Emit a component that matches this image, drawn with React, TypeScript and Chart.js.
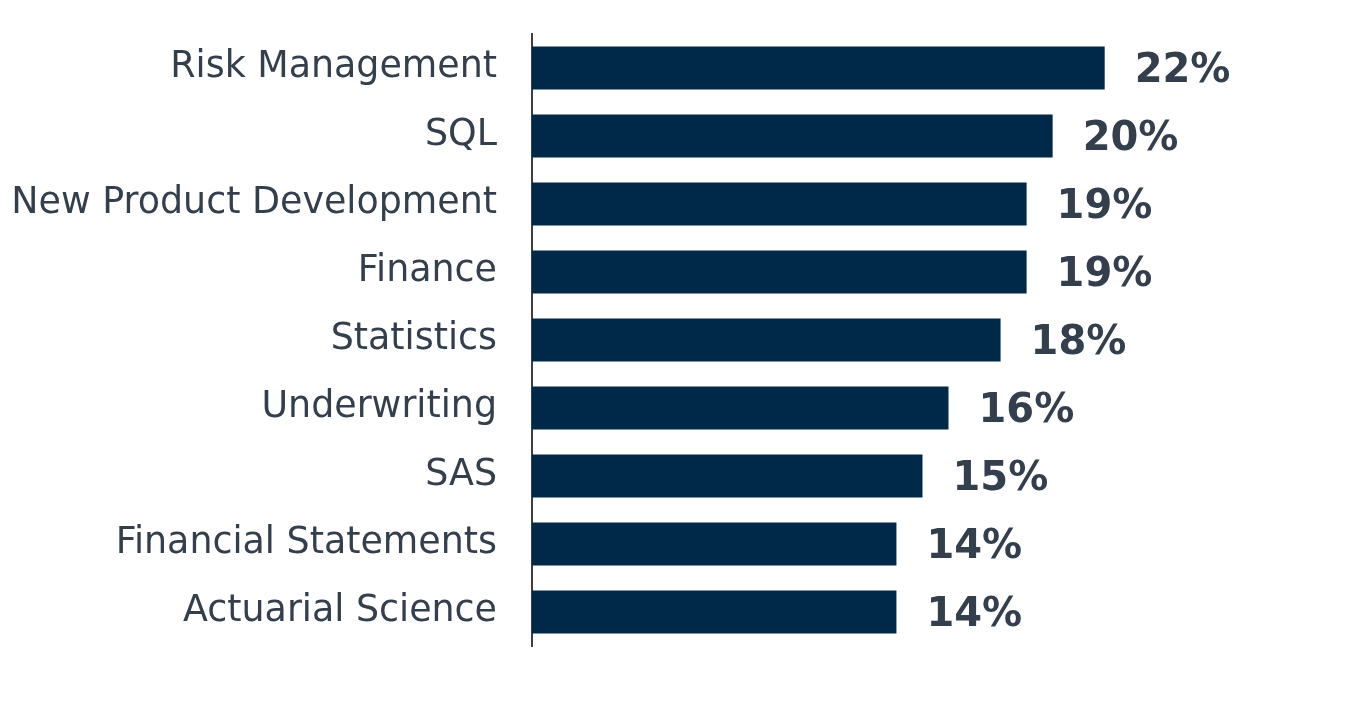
import { useRef, useEffect } from "react";
import Chart, { ChartConfiguration, Plugin } from "chart.js/auto";

const skills = [
  "Risk Management",
  "SQL",
  "New Product Development",
  "Finance",
  "Statistics",
  "Underwriting",
  "SAS",
  "Financial Statements",
  "Actuarial Science",
];
const shares = [22, 20, 19, 19, 18, 16, 15, 14, 14];

const BAR_COLOR = "#002848";
const TEXT_COLOR = "#333f4d";

// percentage labels to the right of each bar
const valueLabels: Plugin<"bar"> = {
  id: "valueLabels",
  afterDatasetsDraw(chart) {
    const { ctx } = chart;
    const meta = chart.getDatasetMeta(0);
    ctx.save();
    ctx.font = "bold 40px 'DejaVu Sans'";
    ctx.fillStyle = TEXT_COLOR;
    ctx.textAlign = "left";
    ctx.textBaseline = "middle";
    meta.data.forEach((bar, i) => {
      ctx.fillText(shares[i] + "%", bar.x + 30, bar.y + 4);
    });
    ctx.restore();
  },
};

export default function App() {
  const chartRef = useRef<HTMLCanvasElement>(null);
  const chartInstance = useRef<Chart<"bar", number[], string> | null>(null);

  useEffect(() => {
    document.body.style.margin = "0";
    if (chartRef.current && chartInstance.current === null) {
      const chartConfig: ChartConfiguration<"bar", number[], string> = {
        type: "bar",
        data: {
          labels: skills,
          datasets: [
            {
              data: shares,
              backgroundColor: BAR_COLOR,
              categoryPercentage: 1,
              barPercentage: 0.63,
            },
          ],
        },
        options: {
          indexAxis: "y",
          animation: false,
          responsive: true,
          maintainAspectRatio: false,
          layout: { padding: { top: 34, bottom: 64, left: 0, right: 0 } },
          scales: {
            x: {
              display: false,
              min: 0,
              max: 32,
            },
            y: {
              afterFit(scale) {
                scale.width = 532;
                scale.paddingTop = 0;
                scale.paddingBottom = 0;
              },
              grid: { display: true, drawOnChartArea: false, drawTicks: false },
              border: { display: true, color: "#3a3f45", width: 2 },
              ticks: {
                color: TEXT_COLOR,
                font: { family: "'DejaVu Sans'", size: 36.4 },
                padding: 35,
              },
            },
          },
          plugins: {
            legend: { display: false },
            tooltip: { enabled: false },
          },
        },
        plugins: [valueLabels],
      };
      chartInstance.current = new Chart(chartRef.current, chartConfig);
    }
    return () => {
      if (chartInstance.current) {
        chartInstance.current.destroy();
        chartInstance.current = null;
      }
    };
  }, []);

  return (
    <div style={{ width: "1365px", height: "710px", position: "relative" }}>
      <canvas ref={chartRef} />
    </div>
  );
}
